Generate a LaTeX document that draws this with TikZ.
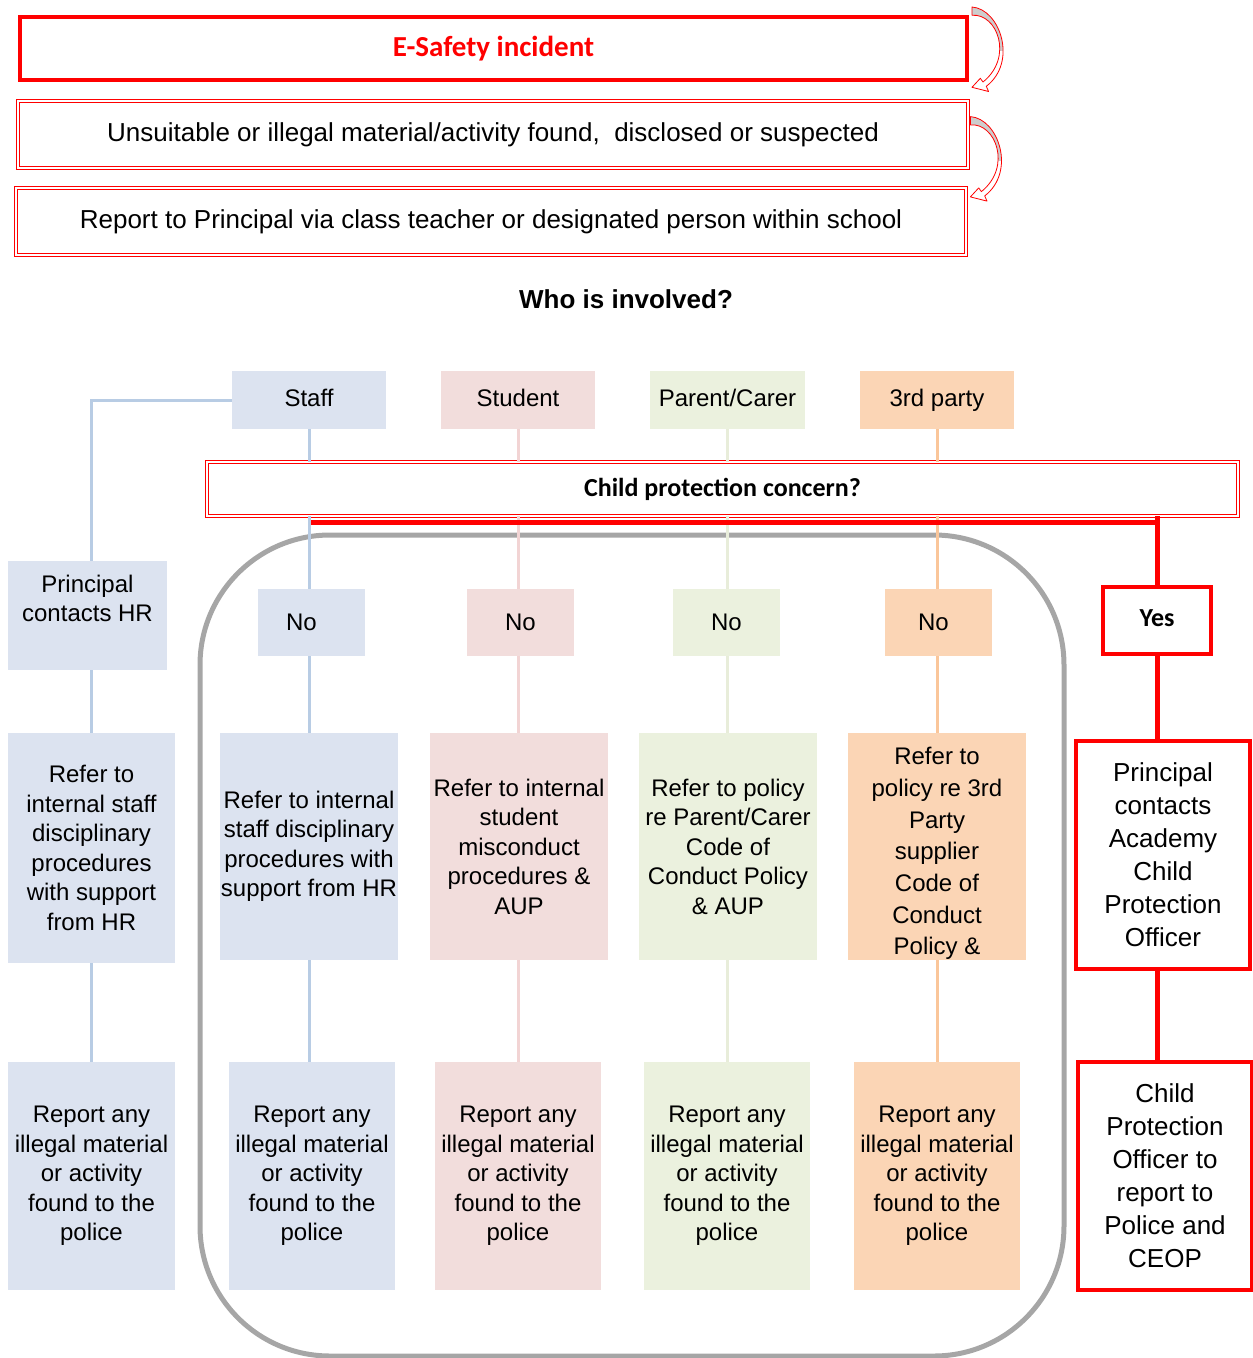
\documentclass[tikz,border=0pt]{standalone}
\usepackage{fontspec}
\setmainfont{Liberation Sans}
\newfontfamily\calibri{Carlito}
\usepackage{tikz}
\usetikzlibrary{calc}

\definecolor{staffFill}{RGB}{220,227,240}
\definecolor{staffLine}{RGB}{184,204,228}
\definecolor{studentFill}{RGB}{242,221,220}
\definecolor{studentLine}{RGB}{242,212,212}
\definecolor{parentFill}{RGB}{235,241,222}
\definecolor{parentLine}{RGB}{232,237,218}
\definecolor{thirdFill}{RGB}{251,213,181}
\definecolor{thirdLine}{RGB}{250,198,154}
\definecolor{frameGray}{RGB}{166,166,166}
\definecolor{arrowGray}{RGB}{205,205,205}

\newcommand{\boxfont}{\fontsize{24}{29.5}\selectfont}

\newcommand{\CurvedArrow}[1]{
	\def\lpin{#1}
	\def\arrowPath{(0,0) .. controls (28,2) and (46,55) .. (14.3,79.3) -- (16.6,84.5) -- (0,80.3) -- (8.3,71.3) -- (11,75) .. controls (42,50) and (25,6) .. (0,8.3) -- cycle}
	\begin{scope}[shift={(\lpin)}]
		\fill[white] \arrowPath;
		\begin{scope}
			\clip \arrowPath;
			\fill[arrowGray] (-5,-5) rectangle (50,44);
		\end{scope}
		\draw[red, line width=0.8pt, line join=round] \arrowPath;
	\end{scope}
}

\tikzset{
	flowbox/.style={rectangle, align=center, inner sep=0pt, font=\boxfont},
	redbox/.style={flowbox, draw=red, line width=4pt},
	dblbox/.style={flowbox, draw=red, line width=0.8pt, double=white, double distance=1.6pt},
	staffbox/.style={flowbox, fill=staffFill},
	studentbox/.style={flowbox, fill=studentFill},
	parentbox/.style={flowbox, fill=parentFill},
	thirdbox/.style={flowbox, fill=thirdFill},
	colline/.style={line width=3pt},
	redline/.style={red, line width=5pt},
}

\begin{document}
\begin{tikzpicture}[x=1pt, y=-1pt]

	\useasboundingbox (0,0) rectangle (1253,1358);

	\node[redbox, minimum width=947pt, minimum height=63pt, text=red, font=\calibri\bfseries\fontsize{29}{34}\selectfont] (incident) at (493.5,48.5) {E-Safety incident};
	\node[dblbox, minimum width=950pt, minimum height=67pt, font=\fontsize{26}{31}\selectfont] (found) at (493,134.5) {\raisebox{5pt}{Unsuitable or illegal material/activity found, \ disclosed or suspected}};
	\node[dblbox, minimum width=950pt, minimum height=67pt, font=\fontsize{26}{31}\selectfont] (report) at (491,221.5) {\raisebox{-2pt}{Report to Principal via class teacher or designated person within school}};

	\coordinate (arrowA) at ($(incident.north east)+(3,-8)$);
	\coordinate (arrowB) at ($(found.north east)+(2,16)$);
	\CurvedArrow{arrowA}
	\CurvedArrow{arrowB}

	\node[font=\bfseries\fontsize{26}{31}\selectfont] (who) at (626,299) {Who is involved?};

	\node[staffbox, minimum width=154pt, minimum height=58pt] (staff) at (309,400) {\raisebox{4pt}{Staff}};
	\node[studentbox, minimum width=154pt, minimum height=58pt] (student) at (518,400) {\raisebox{4pt}{Student}};
	\node[parentbox, minimum width=155pt, minimum height=58pt] (parent) at (727.5,400) {\raisebox{4pt}{Parent/Carer}};
	\node[thirdbox, minimum width=154pt, minimum height=58pt] (third) at (937,400) {\raisebox{4pt}{3rd party}};

	\node[dblbox, minimum width=1031pt, minimum height=54pt, font=\calibri\bfseries\fontsize{26}{31}\selectfont] (bar) at (722.5,489) {Child protection concern?};

	\draw[frameGray, line width=5pt, rounded corners=130pt] (200,535) rectangle (1064,1356);

	\node[staffbox, minimum width=159pt, minimum height=109pt, label={[flowbox, yshift=17pt]center:{Principal\\contacts HR}}] (hr) at (87.5,615.5) {};
	\node[staffbox, minimum width=167pt, minimum height=230pt] (referHR) at (91.5,848) {Refer to\\internal staff\\disciplinary\\procedures\\with support\\from HR};
	\node[staffbox, minimum width=167pt, minimum height=228pt] (reportHR) at (91.5,1176) {Report any\\illegal material\\or activity\\found to the\\police};

	\node[staffbox, minimum width=107pt, minimum height=67pt] (noStaff) at (311.5,622.5) {\hspace*{-20pt}No};
	\node[studentbox, minimum width=107pt, minimum height=67pt] (noStudent) at (520.5,622.5) {No};
	\node[parentbox, minimum width=107pt, minimum height=67pt] (noParent) at (726.5,622.5) {No};
	\node[thirdbox, minimum width=107pt, minimum height=67pt] (noThird) at (938.5,622.5) {\hspace*{-10pt}No};

	\node[staffbox, minimum width=178pt, minimum height=227pt] (referStaff) at (309,846.5) {Refer to internal\\staff disciplinary\\procedures with\\support from HR};
	\node[studentbox, minimum width=178pt, minimum height=227pt] (referStudent) at (519,846.5) {Refer to internal\\student\\misconduct\\procedures \&\\AUP};
	\node[parentbox, minimum width=178pt, minimum height=227pt] (referParent) at (728,846.5) {Refer to policy\\re Parent/Carer\\Code of\\Conduct Policy\\\& AUP};
	\node[thirdbox, minimum width=178pt, minimum height=227pt, font=\fontsize{24}{31.7}\selectfont, label={[flowbox, font=\fontsize{24}{31.7}\selectfont, yshift=-7pt]center:{Refer to\\policy re 3rd\\Party\\supplier\\Code of\\Conduct\\Policy \&}}] (referThird) at (937,846.5) {};

	\node[staffbox, minimum width=166pt, minimum height=228pt] (reportStaff) at (312,1176) {Report any\\illegal material\\or activity\\found to the\\police};
	\node[studentbox, minimum width=166pt, minimum height=228pt] (reportStudent) at (518,1176) {Report any\\illegal material\\or activity\\found to the\\police};
	\node[parentbox, minimum width=166pt, minimum height=228pt] (reportParent) at (727,1176) {Report any\\illegal material\\or activity\\found to the\\police};
	\node[thirdbox, minimum width=166pt, minimum height=228pt] (reportThird) at (937,1176) {Report any\\illegal material\\or activity\\found to the\\police};

	\node[redbox, line width=4.5pt, minimum width=108pt, minimum height=67pt, font=\calibri\bfseries\fontsize{26}{31}\selectfont] (yes) at (1157,620.5) {\raisebox{4pt}{Yes}};
	\node[redbox, line width=3.5pt, minimum width=174pt, minimum height=228pt, font=\fontsize{26}{33}\selectfont] (cpoContact) at (1163,855) {Principal\\contacts\\Academy\\Child\\Protection\\Officer};
	\node[redbox, line width=3.5pt, minimum width=174pt, minimum height=228pt, font=\fontsize{26}{33}\selectfont] (cpoReport) at (1165,1176) {Child\\Protection\\Officer to\\report to\\Police and\\CEOP};

	\draw[colline, staffLine] (staff.west) -| (referHR.north |- hr.north);
	\draw[colline, staffLine] (referHR.north |- hr.south) -- (referHR.north);
	\draw[colline, staffLine] (referHR.south) -- (reportHR.north);

	\foreach \colTop/\colNo/\colRef/\colRep/\colClr in {staff/noStaff/referStaff/reportStaff/staffLine, student/noStudent/referStudent/reportStudent/studentLine, parent/noParent/referParent/reportParent/parentLine, third/noThird/referThird/reportThird/thirdLine}{
		\draw[colline, \colClr] (\colTop.south) -- (\colTop.south |- bar.north);
		\draw[colline, \colClr] (\colTop.south |- bar.south) -- (\colTop.south |- \colNo.north);
		\draw[colline, \colClr] (\colTop.south |- \colNo.south) -- (\colTop.south |- \colRef.north);
		\draw[colline, \colClr] (\colTop.south |- \colRef.south) -- (\colTop.south |- \colRep.north);
	}

	\draw[redline] ($(bar.south -| staff.south)+(2,6)$) -- ($(bar.south -| yes.north)+(2.5,6)$);
	\draw[redline] (bar.south -| yes.north) -- (yes.north);
	\draw[redline] (yes.south) -- (yes.south |- cpoContact.north);
	\draw[redline] (yes.south |- cpoContact.south) -- (yes.south |- cpoReport.north);

\end{tikzpicture}
\end{document}
